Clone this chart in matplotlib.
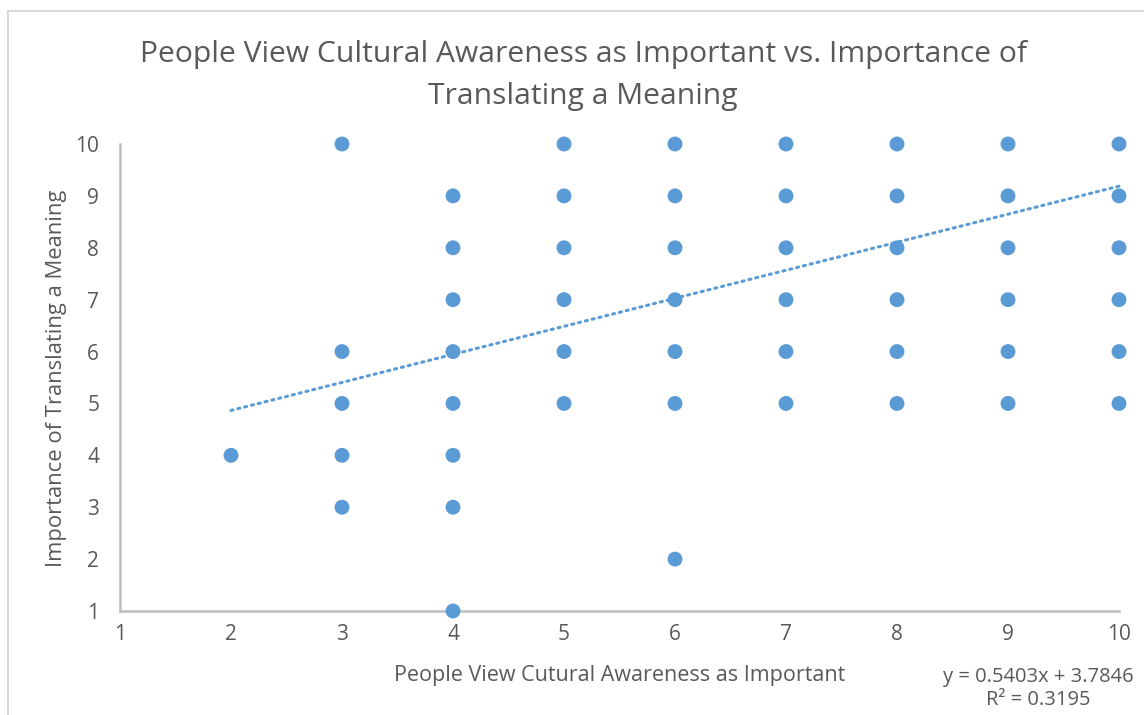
import matplotlib
matplotlib.use("Agg")
import matplotlib.pyplot as plt
from matplotlib.patches import Rectangle
import numpy as np

plt.rcParams['font.family'] = ['Open Sans', 'DejaVu Sans']

# Data (awareness score, translation importance)
x_vals = [2,
          3, 3, 3, 3, 3,
          4, 4, 4, 4, 4, 4, 4, 4,
          5, 5, 5, 5, 5, 5,
          6, 6, 6, 6, 6, 6, 6,
          7, 7, 7, 7, 7, 7,
          8, 8, 8, 8, 8, 8,
          9, 9, 9, 9, 9, 9,
          10, 10, 10, 10, 10, 10]
y_vals = [4,
          10, 6, 5, 4, 3,
          9, 8, 7, 6, 5, 4, 3, 1,
          10, 9, 8, 7, 6, 5,
          10, 9, 8, 7, 6, 5, 2,
          10, 9, 8, 7, 6, 5,
          10, 9, 8, 7, 6, 5,
          10, 9, 8, 7, 6, 5,
          10, 9, 8, 7, 6, 5]
slope = 0.5403
intercept = 3.7846
r_squared = 0.3195
trend_x = [2, 10]
x_ticks = [1, 2, 3, 4, 5, 6, 7, 8, 9, 10]
y_ticks = [1, 2, 3, 4, 5, 6, 7, 8, 9, 10]

title = "People View Cultural Awareness as Important vs. Importance of\nTranslating a Meaning"
x_label = "People View Cutural Awareness as Important"
y_label = "Importance of Translating a Meaning"

W, H = 1144, 715
fig = plt.figure(figsize=(W / 100, H / 100), dpi=100)
text_col = "#595959"
axis_col = "#bfbfbf"
blue = "#5b9bd5"

# chart border
fig.patches.append(Rectangle((8 / W, -0.01), 1.1, 1 - 11 / H + 0.01, transform=fig.transFigure,
                             fill=False, edgecolor="#d9d9d9", linewidth=1.5))

ax = fig.add_axes([120 / W, (H - 611) / H, (1119 - 120) / W, (611 - 144) / H])
ax.set_xlim(1, 10)
ax.set_ylim(1, 10)
for s in ["top", "right"]:
    ax.spines[s].set_visible(False)
for s in ["left", "bottom"]:
    ax.spines[s].set_color(axis_col)
    ax.spines[s].set_linewidth(1.8)
ax.set_xticks(x_ticks)
ax.set_yticks(y_ticks)
ax.tick_params(length=0, labelsize=15, labelcolor=text_col)
ax.tick_params(axis='x', pad=9)
ax.tick_params(axis='y', pad=15)

ax.scatter(x_vals, y_vals, s=115, color=blue, edgecolors='none', zorder=3, clip_on=False)
tx = np.array(trend_x, dtype=float)
ax.plot(tx, slope * tx + intercept, color=blue, linewidth=2.2, linestyle=(0, (0.7, 1.6)),
        dash_capstyle='round', zorder=2, clip_on=False)

fig.text(583 / W, 1 - 75.5 / H, title, ha='center', va='center', fontsize=21.6,
         color=text_col, linespacing=1.58)
fig.text(620 / W, 1 - 676 / H, x_label, ha='center', va='center', fontsize=15.5, color=text_col)
fig.text(57 / W, 1 - 378 / H, y_label, ha='center', va='center', fontsize=15.8,
         color=text_col, rotation=90)
fig.text(1038 / W, 1 - 677 / H, f"y = {slope}x + {intercept}", ha='center', va='center',
         fontsize=14.5, color=text_col)
fig.text(1038 / W, 1 - 700 / H, f"R² = {r_squared}", ha='center', va='center',
         fontsize=14.5, color=text_col)

fig.savefig("out.png", dpi=100)
